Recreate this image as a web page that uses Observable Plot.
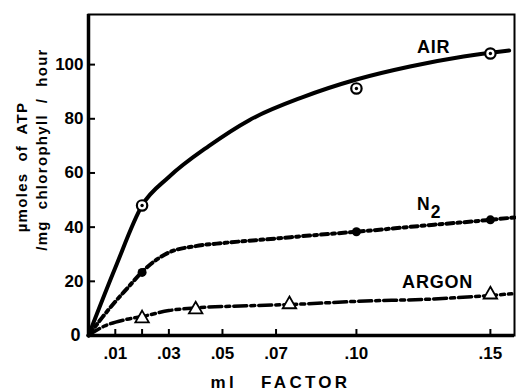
<!DOCTYPE html>
<html>
<head>
<meta charset="utf-8">
<script src="https://cdn.jsdelivr.net/npm/d3@7"></script>
<script src="https://cdn.jsdelivr.net/npm/@observablehq/plot@0.6"></script>
<style>
  html, body { margin: 0; padding: 0; background: #fff; }
  #chart svg { display: block; }
</style>
</head>
<body>
<div id="chart"></div>
<script>
// ---- data ----
const xTicks = [0.01, 0.02, 0.03, 0.05, 0.07, 0.10, 0.15];
const xLabelTicks = [0.01, 0.03, 0.05, 0.07, 0.10, 0.15];
const xTickLabels = [".01", ".03", ".05", ".07", ".10", ".15"];
const yTicks = [0, 20, 40, 60, 80, 100];

// smooth curves (x = ml factor, y = µmoles ATP)
const airCurveX = [0, 0.01, 0.02, 0.03, 0.045, 0.06, 0.08, 0.10, 0.12, 0.14, 0.157];
const airCurveY = [0, 25, 48, 58.5, 70, 79.5, 88, 94.5, 99.3, 103, 105.2];
const n2CurveX = [0, 0.005, 0.01, 0.015, 0.02, 0.0297, 0.04, 0.051, 0.07, 0.0825, 0.10, 0.129, 0.15, 0.159];
const n2CurveY = [0, 6.5, 12.5, 18, 23.5, 30.5, 33, 34.2, 35.8, 36.9, 38.3, 40.9, 42.7, 43.6];
const argonCurveX = [0, 0.006, 0.0135, 0.02, 0.03, 0.04, 0.06, 0.079, 0.10, 0.129, 0.15, 0.158];
const argonCurveY = [0, 3.5, 5.8, 7, 9.2, 10.2, 11, 11.6, 12.6, 13.5, 14.8, 15.4];

// measured points
const airPtsX = [0.02, 0.10, 0.15];
const airPtsY = [48, 91.2, 104.1];
const n2PtsX = [0.02, 0.10, 0.15];
const n2PtsY = [23.3, 38.3, 42.7];
const argonPtsX = [0.02, 0.04, 0.075, 0.15];
const argonPtsY = [6.3, 9.6, 11.5, 15.1];

// series labels (anchored in data units)
const labelText = ["AIR", "ARGON"];
const labelX = [0.1288, 0.1303];
const labelY = [106.6, 19.6];
const n2Label = ["N", "2"];
const n2LabelX = [0.1250, 0.1296];
const n2LabelY = [48.3, 45.5];

const yTitleLines = ["\u00b5moles  of  ATP", "/mg  chlorophyll  /  hour"];
const xTitle = "ml   FACTOR";

// ---- build tables ----
const zip = (xs, ys) => xs.map((x, i) => ({x, y: ys[i]}));
const airCurve = zip(airCurveX, airCurveY);
const n2Curve = zip(n2CurveX, n2CurveY);
const argonCurve = zip(argonCurveX, argonCurveY);
const airPts = zip(airPtsX, airPtsY);
const n2Pts = zip(n2PtsX, n2PtsY);
const argonPts = zip(argonPtsX, argonPtsY);
const labels = labelText.map((t, i) => ({t, x: labelX[i], y: labelY[i]}));
const n2Labels = n2Label.map((t, i) => ({t, x: n2LabelX[i], y: n2LabelY[i]}));
const fmt = (d) => xTickLabels[xLabelTicks.indexOf(d)] ?? "";

const chart = Plot.plot({
  width: 516,
  height: 391,
  marginLeft: 88,
  marginRight: 2,
  marginTop: 14,
  marginBottom: 56,
  style: {fontFamily: "Liberation Sans, Arial, sans-serif", fontWeight: "bold", background: "#fff", color: "#000"},
  x: {domain: [0, 0.159]},
  y: {domain: [0, 118.5]},
  marks: [
    Plot.frame({stroke: "#000", strokeWidth: 2}),
    // tick marks pointing inward
    Plot.ruleX(xTicks, {x: d => d, y1: () => 0, y2: () => 0, insetBottom: 6, stroke: "#000", strokeWidth: 2}),
    Plot.ruleY(yTicks.filter(d => d > 0), {y: d => d, x1: () => 0, x2: () => 0, insetRight: -7, stroke: "#000", strokeWidth: 2}),
    // tick labels
    Plot.axisX(xLabelTicks, {tickSize: 0, tickPadding: 11, tickFormat: fmt, fontSize: 17, fontWeight: "bold", label: null}),
    Plot.axisY(yTicks.filter(d => d > 0), {tickSize: 0, tickPadding: 5, fontSize: 17, fontWeight: "bold", label: null}),
    Plot.axisY(yTicks.filter(d => d === 0), {tickSize: 0, tickPadding: 8, fontSize: 18, fontWeight: "bold", label: null}),
    // axes lines
    Plot.ruleX([0], {stroke: "#000", strokeWidth: 3.5}),
    Plot.ruleY([0], {stroke: "#000", strokeWidth: 3.5}),
    // curves
    Plot.line(airCurve, {x: "x", y: "y", curve: "monotone-x", stroke: "#000", strokeWidth: 4}),
    Plot.line(n2Curve, {x: "x", y: "y", curve: "monotone-x", stroke: "#000", strokeWidth: 4, strokeDasharray: "7,4,3,4"}),
    Plot.line(argonCurve, {x: "x", y: "y", curve: "monotone-x", stroke: "#000", strokeWidth: 3.5, strokeDasharray: "13,4,4,4"}),
    // markers
    Plot.dot(airPts, {x: "x", y: "y", r: 5.2, fill: "#fff", stroke: "#000", strokeWidth: 2.2}),
    Plot.dot(airPts, {x: "x", y: "y", r: 1.7, fill: "#000"}),
    Plot.dot(n2Pts, {x: "x", y: "y", r: 4.5, fill: "#000"}),
    Plot.dot(argonPts, {x: "x", y: "y", symbol: "triangle", r: 5, fill: "#fff", stroke: "#000", strokeWidth: 1.8}),
    // series labels
    Plot.text(labels, {x: "x", y: "y", text: "t", fontSize: 18, fontWeight: "bold"}),
    Plot.text(n2Labels, {x: "x", y: "y", text: "t", fontSize: 17.5, fontWeight: "bold"}),
    // axis titles
    Plot.text([xTitle], {frameAnchor: "bottom", lineAnchor: "middle", dx: -21, dy: 47, fontSize: 17, fontWeight: "bold"}),
    Plot.text([yTitleLines[0]], {frameAnchor: "left", textAnchor: "middle", lineAnchor: "middle", rotate: -90, fontSize: 15, fontWeight: "bold"}),
    Plot.text([yTitleLines[1]], {frameAnchor: "left", textAnchor: "middle", lineAnchor: "middle", rotate: -90, fontSize: 15, fontWeight: "bold"})
  ]
});

// text styling / placement of the rotated axis titles
const textStyle = new Map([
  [xTitle, {ls: "3.3px"}],
  ["AIR", {ls: "0.8px"}],
  ["ARGON", {ls: "0.8px"}],
  [yTitleLines[0], {ls: "1.3px", cx: 22, cy: 166.5}],
  [yTitleLines[1], {ls: "1.3px", cx: 42, cy: 149}]
]);
d3.select(chart).selectAll("text").each(function () {
  const s = textStyle.get(this.textContent);
  if (!s) return;
  this.style.letterSpacing = s.ls;
  this.style.whiteSpace = "pre";
  if (s.cx != null) this.setAttribute("transform", `translate(${s.cx},${s.cy}) rotate(-90)`);
});
document.getElementById("chart").appendChild(chart);
</script>
</body>
</html>
